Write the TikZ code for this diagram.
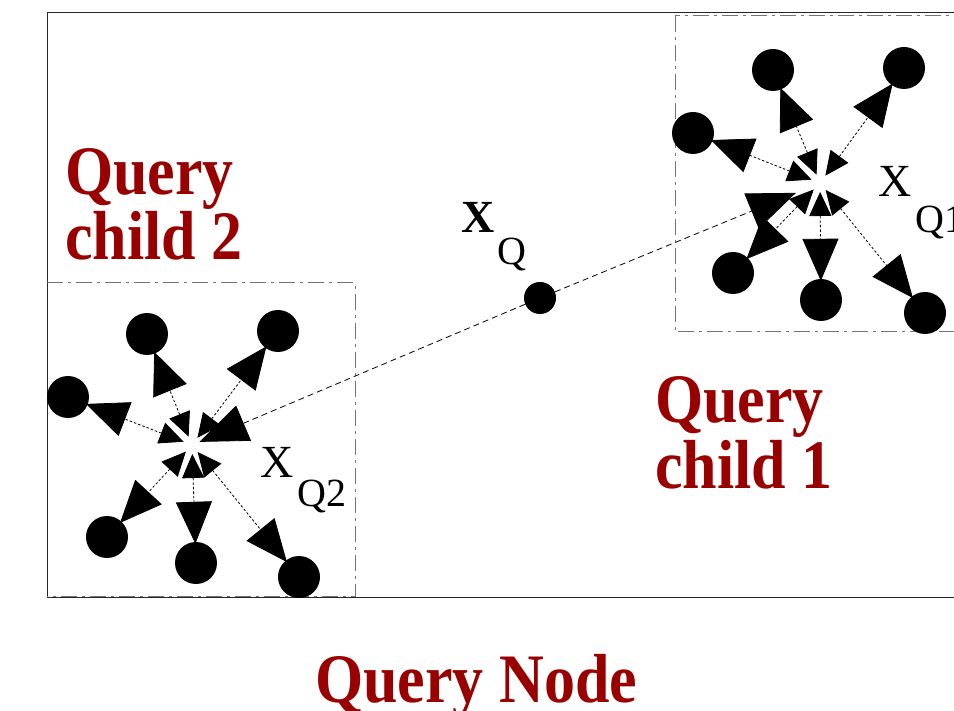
\documentclass[tikz,border=0pt]{standalone}
\usepackage{fontspec}
\setmainfont{Liberation Serif}
\usetikzlibrary{arrows.meta}
\definecolor{qred}{RGB}{153,0,0}
\tikzset{
  pt/.style={circle,fill=black,inner sep=0pt,minimum size=42pt},
  qdot/.style={circle,fill=black,inner sep=0pt,minimum size=32pt},
  childlink/.style={draw=black,line width=0.8pt,dash pattern=on 2.5pt off 2pt,
    {Triangle[length=24pt,width=22pt,fill=black]}-{Triangle[length=42pt,width=36pt,fill=black]},
    shorten <=9pt, shorten >=-2pt},
  qlink/.style={draw=black,line width=0.8pt,dash pattern=on 6pt off 4pt,
    -{Triangle[length=48pt,width=38pt,fill=black]}},
  boxline/.style={draw=black!55,line width=1pt,dash pattern=on 16pt off 5pt on 3pt off 5pt},
  bigred/.style={anchor=base west,inner sep=0pt,text=qred,font=\fontsize{62}{65}\selectfont\bfseries},
  xlab/.style={anchor=base west,inner sep=0pt,font=\fontsize{46}{50}\selectfont},
  sublab/.style={anchor=base west,inner sep=0pt,font=\fontsize{40}{44}\selectfont}
}
\begin{document}
\begin{tikzpicture}[x=1pt,y=-1pt]
\clip (0,0) rectangle (954,711);
\fill[white] (0,0) rectangle (954,711);
% frames
\draw[black!85,line width=1pt] (47,13) -- (970,13);
\draw[black!85,line width=1pt] (47,13) -- (47,597) -- (970,597);
\draw[boxline] (675,16) -- (675,332) -- (970,332);
\draw[boxline] (970,16) -- (675,16);
\draw[boxline] (47,283) -- (355,283) -- (355,596) -- (47,596);
% centres
\coordinate (c1) at (820,183);
\coordinate (c2) at (192,445);
% query node
\node[qdot] (xq) at (540,298) {};
% cluster 1 points
\node[pt] (a1) at (773,70) {};
\node[pt] (a2) at (904,68) {};
\node[pt] (a3) at (693,133) {};
\node[pt] (a4) at (733,273) {};
\node[pt] (a5) at (821,300) {};
\node[pt] (a6) at (925,313) {};
% cluster 2 points
\node[pt] (b1) at (147,334) {};
\node[pt] (b2) at (278,331) {};
\node[pt] (b3) at (68,397) {};
\node[pt] (b4) at (107,537) {};
\node[pt] (b5) at (196,563) {};
\node[pt] (b6) at (299,577) {};
% links
\foreach \n in {a1,a2,a3,a4,a5,a6} \draw[childlink] (c1) -- (\n);
\foreach \n in {b1,b2,b3,b4,b5,b6} \draw[childlink] (c2) -- (\n);
\draw[qlink,shorten >=26pt] (xq) -- (c1);
\draw[qlink,shorten >=8pt] (xq) -- (c2);
% labels
\node[xlab,font=\fontsize{46}{50}\selectfont\bfseries] (lxq) at (461,233) {X};
\node[sublab] (lxqs) at (497,265) {Q};
\node[xlab] (lx1) at (878,197) {X};
\node[sublab] (lx1s) at (915,233) {Q1};
\node[xlab] (lx2) at (260,477) {X};
\node[sublab] (lx2s) at (297,507) {Q2};
\node[bigred] (t2a) at (65,195) {\scalebox{1}[1.12]{Query}};
\node[bigred] (t2b) at (65,260) {\scalebox{1}[1.12]{child 2}};
\node[bigred] (t1a) at (655,423) {\scalebox{1}[1.12]{Query}};
\node[bigred] (t1b) at (655,488) {\scalebox{1}[1.12]{child 1}};
\node[bigred] (tn) at (315,702) {\scalebox{1}[1.12]{Query Node}};
\end{tikzpicture}
\end{document}
